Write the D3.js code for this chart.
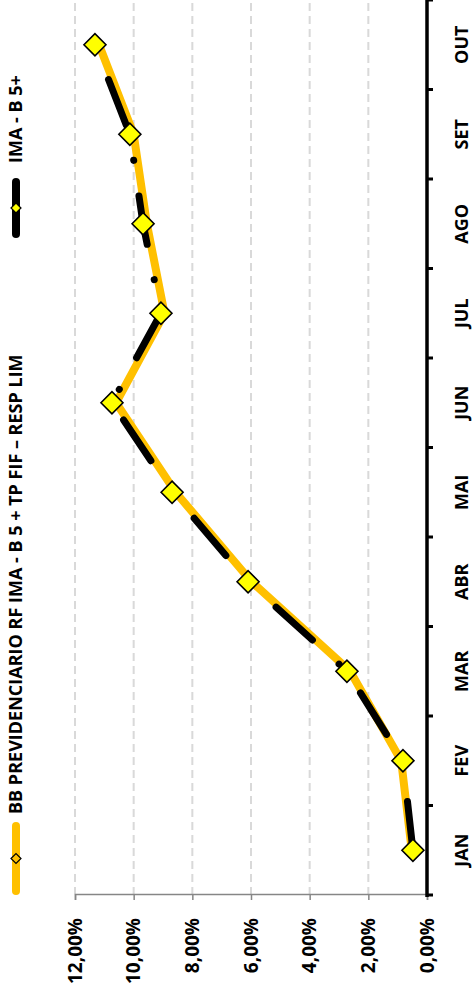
<!DOCTYPE html>
<html>
<head>
<meta charset="utf-8">
<script src="https://cdn.jsdelivr.net/npm/d3@7"></script>
<style>
  html, body { margin: 0; padding: 0; background: #fff; }
  svg { display: block; }
  text { font-family: "Open Sans", sans-serif; font-weight: bold; fill: #000; }
</style>
</head>
<body>
<script>
// ---- data ----
const months = ["JAN", "FEV", "MAR", "ABR", "MAI", "JUN", "JUL", "AGO", "SET", "OUT"];
const bbValues = [0.52, 0.88, 2.62, 5.98, 8.57, 10.60, 8.95, 9.55, 10.00, 11.18];
const imaValues = [0.48, 0.82, 2.73, 6.10, 8.69, 10.74, 9.07, 9.68, 10.13, 11.32];
const valueTicks = [0, 2, 4, 6, 8, 10, 12];
const seriesNames = ["BB PREVIDENCIARIO RF IMA - B 5 + TP FIF – RESP LIM", "IMA - B 5+"];

const W = 473, H = 1002;
const svg = d3.select("body").append("svg").attr("width", W).attr("height", H);

// Chart is drawn in a landscape frame (width H, height W) and rotated -90deg.
const g = svg.append("g").attr("transform", `translate(0,${H}) rotate(-90)`);

const x = d3.scaleBand().domain(months).range([107, 1002]).paddingInner(0).paddingOuter(0);
const y = d3.scaleLinear().domain([0, 12]).range([427, 75]);
const fmt = v => v.toFixed(2).replace(".", ",") + "%";

// gridlines
g.append("g").selectAll("line").data(valueTicks.filter(d => d > 0)).join("line")
  .attr("x1", 107).attr("x2", 1002)
  .attr("y1", d => y(d)).attr("y2", d => y(d))
  .attr("stroke", "#d9d9d9").attr("stroke-width", 2).attr("stroke-dasharray", "8,5");

// value axis (left in landscape)
const yAxis = g.append("g").attr("transform", "translate(107,0)")
  .call(d3.axisLeft(y).tickValues(valueTicks).tickFormat(fmt).tickSize(5).tickPadding(18));
yAxis.select(".domain").attr("stroke", "#868686").attr("stroke-width", 1.5);
yAxis.selectAll(".tick line").attr("stroke", "#868686").attr("stroke-width", 1.5);
yAxis.selectAll("text").style("font-size", "19px").attr("fill", "#000");

// category axis (bottom in landscape)
const xAxis = g.append("g").attr("transform", "translate(0,427)")
  .call(d3.axisBottom(x).tickSize(0).tickPadding(0));
xAxis.select(".domain").remove();
xAxis.selectAll("text").style("font-size", "18px").attr("fill", "#000").attr("dy", null).attr("y", 41);
// band edge ticks
const edges = months.map(m => x(m)).concat([x.range()[1]]);
g.append("g").selectAll("line").data(edges).join("line")
  .attr("x1", d => d).attr("x2", d => d).attr("y1", 427).attr("y2", 433)
  .attr("stroke", "#000").attr("stroke-width", 3);
g.append("line").attr("x1", 105).attr("x2", 1002).attr("y1", 427).attr("y2", 427)
  .attr("stroke", "#000").attr("stroke-width", 3.5);

const cx = m => x(m) + x.bandwidth() / 2;

// BB series line (orange, solid)
const lineGen = d3.line().x((d, i) => cx(months[i])).y(d => y(d));
g.append("path").datum(bbValues).attr("d", lineGen)
  .attr("fill", "none").attr("stroke", "#FFC000").attr("stroke-width", 8)
  .attr("stroke-linejoin", "round").attr("stroke-linecap", "round");

// IMA series line (black, long dash-dot)
g.append("path").datum(imaValues).attr("d", lineGen)
  .attr("fill", "none").attr("stroke", "#000").attr("stroke-width", 7)
  .attr("stroke-linecap", "round").attr("stroke-linejoin", "round")
  .attr("stroke-dasharray", "49,36,0.1,36");

// diamonds
const diamond = r => `M0,${-r}L${r},0L0,${r}L${-r},0Z`;
g.append("g").selectAll("path").data(imaValues).join("path")
  .attr("d", diamond(11))
  .attr("transform", (d, i) => `translate(${cx(months[i])},${y(d)})`)
  .attr("fill", "#FFFF00").attr("stroke", "#000").attr("stroke-width", 1.6);

// legend
const legend = g.append("g");
const items = [
  { name: seriesNames[0], x0: 107, x1: 180, color: "#FFC000", w: 8, mfill: "#FFC000", tx: 188 },
  { name: seriesNames[1], x0: 764, x1: 824, color: "#000", w: 8, mfill: "#FFFF00", tx: 839 }
];
items.forEach(it => {
  legend.append("line").attr("x1", it.x0 + 4).attr("x2", it.x1 - 4).attr("y1", 16).attr("y2", 16)
    .attr("stroke", it.color).attr("stroke-width", it.w).attr("stroke-linecap", "round");
  legend.append("path").attr("d", diamond(5))
    .attr("transform", `translate(${(it.x0 + it.x1) / 2},16)`)
    .attr("fill", it.mfill).attr("stroke", "#000").attr("stroke-width", 1.2);
  legend.append("text").attr("x", it.tx).attr("y", 16).attr("dy", "0.36em")
    .style("font-size", "18px").text(it.name);
});
</script>
</body>
</html>
